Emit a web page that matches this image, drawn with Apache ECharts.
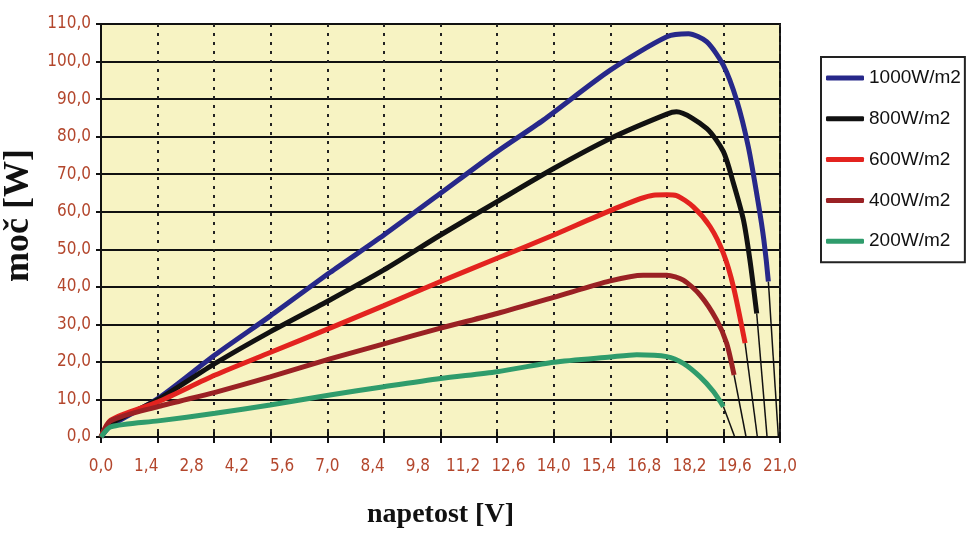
<!DOCTYPE html>
<html>
<head>
<meta charset="utf-8">
<script src="https://cdn.jsdelivr.net/npm/echarts@6/dist/echarts.min.js"></script>
<style>
html,body{margin:0;padding:0;background:#fff;}
#c{width:968px;height:534px;}
</style>
</head>
<body>
<div id="c"></div>
<script>
// ---- data ----
const seriesNames = ['1000W/m2', '800W/m2', '600W/m2', '400W/m2', '200W/m2'];

const volt1000 = [0, 0.3, 1.77, 3.53, 5.23, 7.08, 8.75, 10.5, 12.25, 13.68, 15.75, 17.5, 18.17, 18.73, 19.25, 19.66, 20.02, 20.33, 20.5, 20.64];
const power1000 = [0, 3, 10.3, 21.9, 32.2, 43.8, 53.8, 64.9, 76, 84.4, 97.7, 106.6, 107.4, 105.3, 99, 89.7, 77.3, 62.2, 52.5, 41.4];

const volt800 = [0, 0.3, 1.77, 3.53, 5.23, 7.08, 8.75, 10.5, 12.25, 14.0, 15.75, 17.5, 17.8, 18.73, 19.25, 19.56, 19.87, 20.07, 20.28];
const power800 = [0, 3.5, 10, 19.6, 28, 36.5, 44.5, 53.8, 62.7, 71.5, 79.5, 86, 86.6, 82.2, 76, 67.6, 57.8, 47.1, 32.9];

const volt600 = [0, 0.3, 1.77, 3.53, 5.23, 7.08, 8.75, 10.5, 12.25, 14.0, 15.75, 17.08, 17.5, 17.8, 18.32, 18.84, 19.25, 19.56, 19.92];
const power600 = [0, 4.5, 9.4, 16.5, 22.5, 29, 35, 41.4, 47.6, 53.8, 60.3, 64.4, 64.5, 64.3, 61.3, 56, 48.9, 40, 25];

const volt400 = [0, 0.3, 1.77, 3.53, 5.23, 7.08, 8.75, 10.5, 12.25, 14.0, 15.75, 16.77, 17.5, 18.01, 18.53, 19.04, 19.35, 19.58];
const power400 = [0, 4.3, 8.1, 11.9, 16, 20.8, 24.8, 29, 32.9, 37.2, 41.6, 43.1, 43.1, 41.8, 37.8, 31.2, 25, 16.5];

const volt200 = [0, 0.3, 1.77, 3.53, 5.23, 7.08, 8.75, 10.5, 12.25, 14.0, 15.75, 16.57, 17.5, 18.01, 18.53, 18.94, 19.25];
const power200 = [0, 2.7, 4.3, 6.3, 8.5, 11.2, 13.4, 15.6, 17.4, 19.9, 21.3, 21.9, 21.4, 19.6, 16, 12.1, 8.1];

// open-circuit voltages where thin black connectors meet the axis
const openCircuitVolt = [20.95, 20.6, 20.3, 19.95, 19.6];

const xMin = 0, xMax = 21, xLabelStep = 1.4, xGridStep = 1.75;
const yMin = 0, yMax = 110, yStep = 10;

// ---- styling ----
const colors = ['#27288A', '#111111', '#E3231F', '#9A2124', '#2F9C6C'];
const labelColor = '#B3462C';
const narrow = '"DejaVu Sans Condensed", "Liberation Sans Narrow", "Arial Narrow", "Liberation Sans", Arial, sans-serif';
const fmt = v => v.toFixed(1).replace('.', ',');

const volts = [volt1000, volt800, volt600, volt400, volt200];
const powers = [power1000, power800, power600, power400, power200];

const series = [];
volts.forEach((vs, i) => {
  const last = vs.length - 1;
  series.push({
    type: 'line', xAxisIndex: 0, symbol: 'none', silent: true, z: 2,
    data: [[vs[last], powers[i][last]], [openCircuitVolt[i], 0]],
    lineStyle: { color: '#111', width: 1.5 }
  });
});
volts.forEach((vs, i) => {
  series.push({
    name: seriesNames[i], type: 'line', xAxisIndex: 0, symbol: 'none', z: 3 + i,
    smooth: 0.25,
    data: vs.map((v, k) => [v, powers[i][k]]),
    lineStyle: { color: colors[i], width: 5, cap: 'butt' },
    itemStyle: { color: colors[i] }
  });
});

const chart = echarts.init(document.getElementById('c'), null, { renderer: 'canvas' });
chart.setOption({
  animation: false,
  backgroundColor: '#ffffff',
  grid: {
    left: 101, right: 188, top: 24, bottom: 97,
    containLabel: false, outerBoundsMode: 'none',
    show: true, backgroundColor: '#F7F3C3', borderColor: '#111', borderWidth: 2
  },
  legend: {
    data: seriesNames, orient: 'vertical', left: 821, top: 57,
    padding: [11, 4, 11, 5], itemGap: 20.8, itemWidth: 38, itemHeight: 5,
    icon: 'roundRect',
    borderColor: '#222', borderWidth: 2, backgroundColor: '#fff',
    textStyle: { fontSize: 19, lineHeight: 20, color: '#111', fontFamily: '"Liberation Sans", Arial, sans-serif' }
  },
  xAxis: [
    {
      type: 'value', min: xMin, max: xMax, interval: xLabelStep, position: 'bottom',
      name: 'napetost [V]', nameLocation: 'middle', nameGap: 64,
      nameTextStyle: { fontFamily: '"Liberation Serif", "Times New Roman", serif', fontWeight: 'bold', fontSize: 28, color: '#111' },
      axisLine: { show: true, lineStyle: { color: '#111', width: 2 } },
      axisTick: { show: false }, splitLine: { show: false },
      axisLabel: { margin: 21, color: labelColor, fontSize: 17, fontFamily: narrow, formatter: fmt, showMinLabel: true, showMaxLabel: true, hideOverlap: false }
    },
    {
      type: 'value', min: xMin, max: xMax, interval: xGridStep, position: 'bottom',
      axisLine: { show: false },
      axisTick: { show: true, length: 6, lineStyle: { color: '#111', width: 2 } },
      axisLabel: { show: false },
      splitLine: { show: true, lineStyle: { color: '#222', width: 2, type: [3, 6] } }
    },
    {
      type: 'value', min: xMin, max: xMax, interval: xGridStep, position: 'bottom',
      axisLine: { show: false },
      axisTick: { show: true, inside: true, length: 5, lineStyle: { color: '#111', width: 2 } },
      axisLabel: { show: false }, splitLine: { show: false }
    }
  ],
  yAxis: {
    type: 'value', min: yMin, max: yMax, interval: yStep,
    name: 'moč [W]', nameLocation: 'middle', nameGap: 50, nameRotate: 90,
    nameTextStyle: { fontFamily: '"Liberation Serif", "Times New Roman", serif', fontWeight: 'bold', fontSize: 36, color: '#111', padding: [0, 0, 0, 30] },
    axisLine: { show: true, lineStyle: { color: '#111', width: 2 } },
    axisTick: { show: true, length: 5, lineStyle: { color: '#111', width: 2 } },
    axisLabel: { margin: 10, color: labelColor, fontSize: 17, fontFamily: narrow, formatter: fmt },
    splitLine: { show: true, lineStyle: { color: '#111', width: 2 } }
  },
  series: series
});
</script>
</body>
</html>
